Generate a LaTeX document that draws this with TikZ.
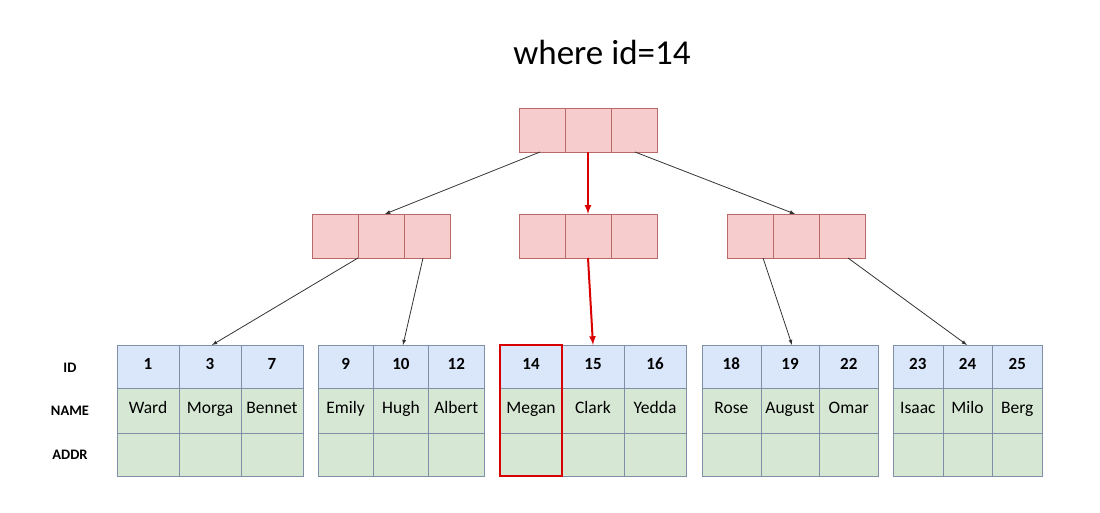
\documentclass[tikz,border=0pt]{standalone}
\usepackage{fontspec}
\setmainfont{Carlito}
\usetikzlibrary{positioning}

\definecolor{keypink}{HTML}{F6CCCC}
\definecolor{keyline}{HTML}{B86A6A}
\definecolor{idblue}{HTML}{DAE6FA}
\definecolor{rowgreen}{HTML}{D6E8D4}
\definecolor{cellline}{HTML}{7F8FA6}

\tikzset{
  key/.style={draw=keyline, fill=keypink, minimum width=46pt, minimum height=44pt, inner sep=0pt, outer sep=0pt},
  idcell/.style={draw=cellline, fill=idblue, minimum height=43pt, inner sep=0pt, outer sep=0pt, text height=1.5ex, text depth=.25ex, font=\fontsize{17}{17}\selectfont\bfseries},
  namecell/.style={draw=cellline, fill=rowgreen, minimum height=45pt, inner sep=0pt, outer sep=0pt, text height=1.5ex, text depth=.25ex, font=\fontsize{17.5}{17.5}\selectfont},
  addrcell/.style={draw=cellline, fill=rowgreen, minimum height=43pt, inner sep=0pt, outer sep=0pt},
  rowlabel/.style={font=\fontsize{14.5}{14.5}\selectfont\bfseries},
  link/.style={-latex, draw=black!80, line width=0.8pt},
  hit/.style={-latex, draw=red!85!black, line width=2pt},
}

\begin{document}
\begin{tikzpicture}[x=1pt, y=-1pt]
\useasboundingbox (0,0) rectangle (1100,512);

\node[font=\fontsize{35}{35}\selectfont] (title) at (602,52) {where id=14};

% root and inner nodes
\foreach \n/\x/\y in {r/519/130, m1/312/236, m2/519/236, m3/727/236} {
  \node[key] (\n a) at (\x+23,\y) {};
  \node[key, right=0pt of \n a] (\n b) {};
  \node[key, right=0pt of \n b] (\n c) {};
}

% leaves: name/left/width/ids/names
\foreach \l/\x/\w/\ia/\ib/\ic/\na/\nb/\nc in {
  1/117/62/1/3/7/Ward/Morga/Bennet,
  2/318/55.3/9/10/12/Emily/Hugh/Albert,
  3/500/62/14/15/16/Megan/Clark/Yedda,
  4/702/58.7/18/19/22/Rose/August/Omar,
  5/893/49.7/23/24/25/Isaac/Milo/Berg} {
  \foreach \c/\k/\v [count=\i from 0] in {a/\ia/\na, b/\ib/\nb, c/\ic/\nc} {
    \node[idcell, minimum width=\w pt] (l\l\c id) at (\x+\w/2+\i*\w,366.5) {\k};
    \node[namecell, minimum width=\w pt, below=0pt of l\l\c id] (l\l\c name) {\v};
    \node[addrcell, minimum width=\w pt, below=0pt of l\l\c name] (l\l\c addr) {};
  }
}

\node[rowlabel] (lid) at (70,368) {ID};
\node[rowlabel] (lname) at (70,411) {NAME};
\node[rowlabel] (laddr) at (70,455) {ADDR};

% found row
\draw[red!85!black, line width=2.2pt] (l3aid.north west) rectangle (l3aaddr.south east);

% pointers
\coordinate (p1) at (540,152);
\coordinate (p2) at (635,152);
\coordinate (p3) at (358,258);
\coordinate (p4) at (423,258);
\coordinate (p5) at (763,258);
\coordinate (p6) at (848,258);
\coordinate (t1) at (385,214);
\coordinate (t2) at (795,214);
\coordinate (t3) at (212,345);
\coordinate (t4) at (403,345);
\coordinate (t5) at (593,345);
\coordinate (t6) at (792,345);
\coordinate (t7) at (967,345);

\draw[link] (p1) -- (t1);
\draw[hit] (rb.south) -- (m2b.north);
\draw[link] (p2) -- (t2);
\draw[link] (p3) -- (t3);
\draw[link] (p4) -- (t4);
\draw[hit] (m2b.south) -- (t5);
\draw[link] (p5) -- (t6);
\draw[link] (p6) -- (t7);
\end{tikzpicture}
\end{document}
